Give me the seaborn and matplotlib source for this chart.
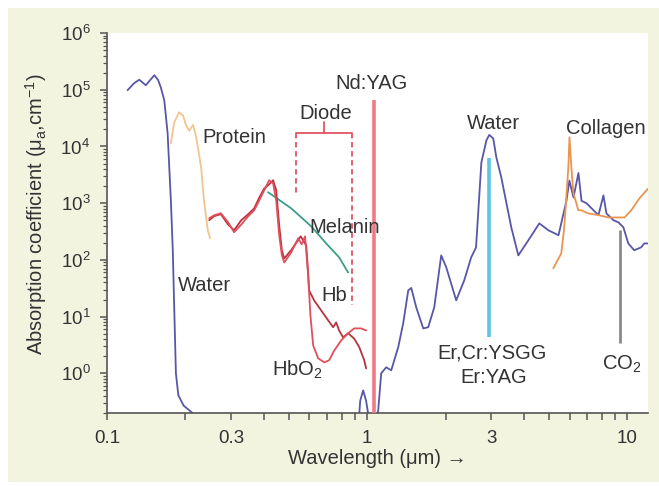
import numpy as np
import pandas as pd
import matplotlib
matplotlib.use("Agg")
import matplotlib.pyplot as plt
import seaborn as sns
from matplotlib.patches import Rectangle
from matplotlib.ticker import FixedLocator, NullFormatter, LogLocator

sns.set_theme(style="white")
plt.rcParams['font.family'] = ['Liberation Sans', 'DejaVu Sans']
plt.rcParams['mathtext.fontset'] = 'custom'
plt.rcParams['mathtext.rm'] = 'Liberation Sans'
plt.rcParams['mathtext.it'] = 'Liberation Sans:italic'
plt.rcParams['mathtext.bf'] = 'Liberation Sans:bold'

# ---------------- data (wavelength in µm, absorption in cm^-1) ----------------
water_uv_wl = [0.120, 0.127, 0.133, 0.141, 0.145, 0.152, 0.157, 0.161, 0.166, 0.171,
               0.176, 0.179, 0.181, 0.184, 0.188, 0.197, 0.216]
water_uv_mu = [9.8e4, 1.3e5, 1.5e5, 1.2e5, 1.4e5, 1.8e5, 1.5e5, 1.1e5, 6.5e4, 1.7e4,
               1.1e3, 148, 19, 1.0, 0.41, 0.27, 0.19]

water_ir_wl = [0.923, 0.94, 0.965, 0.99, 1.018, 1.055, 1.083, 1.102, 1.132, 1.183,
               1.237, 1.316, 1.375, 1.438, 1.477, 1.543, 1.642, 1.716, 1.810, 1.925,
               2.013, 2.198, 2.360, 2.51, 2.62, 2.746, 2.873, 2.946, 3.051, 3.136,
               3.276, 3.578, 3.809, 4.158, 4.587, 4.970, 5.435, 5.830, 5.986, 6.205,
               6.484, 6.663, 6.960, 7.408, 7.742, 8.089, 8.307, 8.841, 9.236, 9.650,
               10.08, 10.62, 11.31, 11.60, 12.1]
water_ir_mu = [0.1, 0.33, 0.50, 0.33, 0.15, 0.12, 0.16, 0.22, 1.0, 1.28,
               1.13, 2.9, 7.6, 29, 32, 14.6, 6.2, 6.5, 14.6, 120,
               74, 19.4, 43.6, 111, 166, 5.2e3, 1.29e4, 1.6e4, 1.38e4, 6.4e3,
               2.85e3, 376, 120, 220, 440, 333, 272, 1.1e3, 2.5e3, 1.26e3,
               3.4e3, 1.1e3, 1.0e3, 750, 616, 1.37e3, 660, 500, 460, 376,
               195, 148, 167, 195, 195]

protein_wl = [0.176, 0.181, 0.189, 0.196, 0.201, 0.207, 0.214, 0.220, 0.230, 0.236,
              0.244, 0.249]
protein_mu = [1.14e4, 2.6e4, 4.0e4, 3.5e4, 2.4e4, 1.9e4, 2.4e4, 1.5e4, 4.3e3, 1.1e3,
              333, 240]

collagen_wl = [5.19, 5.57, 5.72, 5.93, 5.99, 6.09, 6.20, 6.48, 6.66, 7.08, 7.74,
               8.45, 9.74, 10.35, 11.1, 12.0]
collagen_mu = [71, 130, 376, 4.3e3, 1.45e4, 4.3e3, 1.5e3, 750, 750, 660, 616,
               560, 560, 750, 1.2e3, 1.8e3]

hbo2_wl = [0.247, 0.258, 0.274, 0.292, 0.308, 0.328, 0.349, 0.368, 0.384, 0.402,
           0.420, 0.435, 0.447, 0.459, 0.470, 0.480, 0.510, 0.543, 0.560, 0.577,
           0.593, 0.605, 0.620, 0.648, 0.684, 0.714, 0.746, 0.794, 0.845, 0.891,
           0.948, 0.991]
hbo2_mu = [542, 612, 664, 460, 307, 420, 590, 750, 1100, 1690,
           2535, 2240, 1100, 272, 120, 90, 135, 240, 188, 260,
           53, 10.6, 3.1, 1.84, 1.56, 1.70, 2.5, 3.8, 5.1, 6.2,
           6.2, 5.7]

hb_wl = [0.247, 0.258, 0.274, 0.292, 0.308, 0.328, 0.349, 0.368, 0.384, 0.402,
         0.420, 0.435, 0.447, 0.459, 0.470, 0.480, 0.510, 0.555, 0.583, 0.593,
         0.598, 0.625, 0.665, 0.708, 0.740, 0.760, 0.780, 0.808, 0.845, 0.891,
         0.932, 0.974, 0.991]
hb_mu = [500, 590, 640, 420, 333, 500, 640, 813, 1230, 1820,
         2150, 2535, 1690, 405, 148, 106, 148, 260, 180, 60,
         29, 19.4, 12.9, 8.6, 6.5, 7.9, 5.7, 4.3, 5.1, 4.1,
         2.9, 1.70, 1.22]

melanin_wl = [0.416, 0.510, 0.609, 0.695, 0.780, 0.845]
melanin_mu = [1560, 813, 392, 196, 111, 60]

# laser lines: wavelength, top, bottom
laser_names = ["Nd:YAG", "Er:YAG", "CO2"]
laser_wl = [1.06, 2.94, 9.4]
laser_top = [6.5e4, 6.2e3, 333]
laser_bottom = [0.1, 4.3, 3.4]

diode_range = [0.533, 0.876]
diode_bracket_y = 1.71e4
diode_stem_top = 2.67e4
diode_dash_bottom = [1500, 16]

x_tick_vals = [0.1, 0.3, 1, 3, 10]
x_tick_labels = ["0.1", "0.3", "1", "3", "10"]
y_tick_vals = [1, 10, 100, 1e3, 1e4, 1e5, 1e6]
y_tick_labels = [r"$10^{0}$", r"$10^{1}$", r"$10^{2}$", r"$10^{3}$",
                 r"$10^{4}$", r"$10^{5}$", r"$10^{6}$"]

# ---------------- figure ----------------
W, H = 659, 486
fig = plt.figure(figsize=(W / 100, H / 100), dpi=100)
fig.patch.set_facecolor("white")
fig.patches.append(Rectangle((8 / W, 4 / H), (W - 8) / W, (482 - 8) / H,
                             transform=fig.transFigure, facecolor="#f3f4e0",
                             edgecolor="none", zorder=-10))

ax = fig.add_axes([107 / W, 73 / H, 541 / W, 380 / H])
ax.set_facecolor("white")

txt = "#333333"
spine_c = "#555555"

series = [
    (water_uv_wl, water_uv_mu, "#5856a8"),
    (water_ir_wl, water_ir_mu, "#5856a8"),
    (protein_wl, protein_mu, "#f2c48e"),
    (collagen_wl, collagen_mu, "#e8954e"),
    (melanin_wl, melanin_mu, "#3a9e88"),
    (hb_wl, hb_mu, "#b8333f"),
    (hbo2_wl, hbo2_mu, "#e0505c"),
]
for wl, mu, c in series:
    df = pd.DataFrame({"wl": wl, "mu": mu})
    sns.lineplot(data=df, x="wl", y="mu", ax=ax, color=c, lw=1.3,
                 estimator=None, sort=False)

laser_colors = ["#f27a86", "#5cc4e4", "#8a8a8a"]
laser_lw = [2.6, 2.6, 2.0]
for wl, top, bot, c, lw in zip(laser_wl, laser_top, laser_bottom, laser_colors, laser_lw):
    ax.vlines(wl, bot, top, color=c, lw=lw, zorder=4)

# diode bracket
dc = "#e05565"
ax.plot(diode_range, [diode_bracket_y] * 2, color=dc, lw=1.3)
mid = np.sqrt(diode_range[0] * diode_range[1])
ax.plot([mid, mid], [diode_bracket_y, diode_stem_top], color=dc, lw=1.3)
for x0, yb in zip(diode_range, diode_dash_bottom):
    ax.plot([x0, x0], [diode_bracket_y, yb], color=dc, lw=1.3, ls=(0, (3, 2)))

ax.set_xscale("log")
ax.set_yscale("log")
ax.set_xlim(0.1, 12)
ax.set_ylim(0.2, 1e6)

ax.xaxis.set_major_locator(FixedLocator(x_tick_vals))
ax.set_xticklabels(x_tick_labels)
ax.xaxis.set_minor_locator(LogLocator(base=10, subs=(2, 4, 5, 6, 7, 8, 9), numticks=20))
ax.xaxis.set_minor_formatter(NullFormatter())
ax.yaxis.set_major_locator(FixedLocator(y_tick_vals))
ax.set_yticklabels(y_tick_labels)
ax.yaxis.set_minor_locator(LogLocator(base=10, subs=np.arange(2, 10), numticks=20))
ax.yaxis.set_minor_formatter(NullFormatter())

ax.tick_params(axis="x", which="both", direction="out", length=5, width=1.1,
               color=spine_c, labelcolor=txt, labelsize=13.5, pad=7, bottom=True)
ax.tick_params(axis="y", which="major", direction="out", length=5, width=1.1,
               color=spine_c, labelcolor=txt, labelsize=13.5, pad=7, left=True)
ax.tick_params(axis="y", which="minor", direction="out", length=3, width=0.9,
               color=spine_c, left=True)

for s in ["top", "right"]:
    ax.spines[s].set_visible(False)
for s in ["left", "bottom"]:
    ax.spines[s].set_color(spine_c)
    ax.spines[s].set_linewidth(1.2)

ax.set_xlabel("Wavelength (μm) →", fontsize=14.5, color=txt, labelpad=2)
ax.set_ylabel("")
fig.text(36 / W, (486 - 214) / H,
         r"Absorption coefficient (μ$_{\mathrm{a}}$,cm$^{-1}$)",
         fontsize=14.5, color=txt, rotation=90, ha="center", va="center")

fs = 14.5
labels = [
    ("Water", 0.236, 35.6),
    ("Protein", 0.308, 1.45e4),
    ("Diode", 0.690, 3.85e4),
    ("Melanin", 0.816, 376),
    ("Hb", 0.746, 23.8),
    (r"HbO$_{2}$", 0.538, 1.15),
    ("Nd:YAG", 1.036, 1.3e5),
    ("Water", 3.05, 2.56e4),
    ("Collagen", 8.23, 2.1e4),
    ("Er,Cr:YSGG", 3.03, 2.25),
    ("Er:YAG", 3.05, 0.85),
    (r"CO$_{2}$", 9.48, 1.45),
]
for t, x, y in labels:
    ax.text(x, y, t, fontsize=fs, color=txt, ha="center", va="center", zorder=6)

fig.savefig("out.png", dpi=100, facecolor=fig.get_facecolor())
